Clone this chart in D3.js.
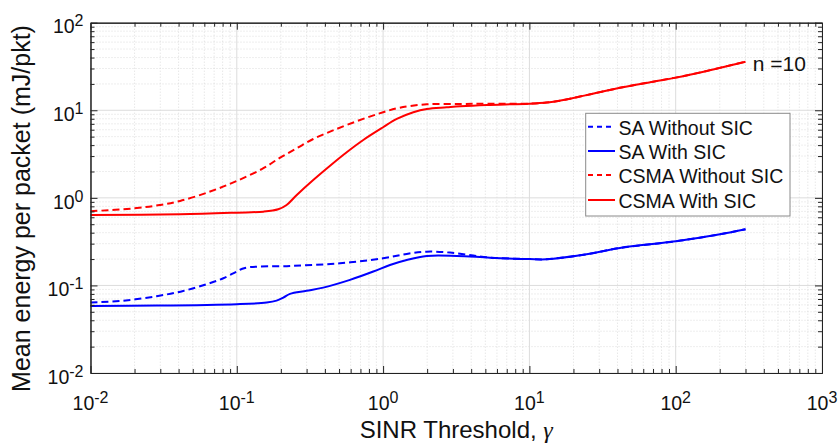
<!DOCTYPE html>
<html>
<head>
<meta charset="utf-8">
<script src="https://cdn.jsdelivr.net/npm/d3@7"></script>
<style>
  html, body { margin: 0; padding: 0; background: #fff; }
  svg { display: block; }
  text { font-family: "Liberation Sans", Arial, Helvetica, sans-serif; fill: #111; }
</style>
</head>
<body>
<svg id="chart" width="839" height="444"></svg>
<script>
// SINR threshold (x) and mean energy per packet (y, mJ/pkt), n = 10 nodes
const saNoSicX   = [0.01, 0.0168, 0.0283, 0.043, 0.0622, 0.0809, 0.0998, 0.1138, 0.231, 0.508, 1.0, 1.45, 1.99, 2.87, 4.14, 5.38, 10, 13.1, 24.6, 41.6, 100, 201, 300];
const saNoSicY   = [0.0637, 0.067, 0.0753, 0.0865, 0.1032, 0.1208, 0.144, 0.1585, 0.167, 0.179, 0.204, 0.229, 0.243, 0.237, 0.219, 0.208, 0.200, 0.199, 0.227, 0.268, 0.319, 0.384, 0.438];

const saSicX     = [0.01, 0.0283, 0.1, 0.16, 0.187, 0.208, 0.231, 0.3, 0.39, 0.594, 0.857, 1.114, 1.45, 1.99, 3.18, 5.38, 10, 13.1, 24.6, 41.6, 100, 201, 300];
const saSicY     = [0.0583, 0.0588, 0.061, 0.0637, 0.067, 0.0726, 0.080, 0.0867, 0.0944, 0.1156, 0.144, 0.1714, 0.1954, 0.2173, 0.2173, 0.2075, 0.200, 0.199, 0.227, 0.268, 0.319, 0.384, 0.438];

const csmaNoSicX = [0.01, 0.02, 0.03, 0.041, 0.0657, 0.1, 0.152, 0.198, 0.257, 0.333, 0.434, 0.564, 0.773, 1.0, 1.30, 1.99, 3.36, 5.1, 10, 14.6, 24.6, 41.6, 70, 100, 155, 300];
const csmaNoSicY = [0.703, 0.76, 0.83, 0.922, 1.18, 1.56, 2.18, 2.88, 3.68, 4.70, 5.70, 6.79, 8.24, 9.49, 10.7, 11.7, 11.8, 11.9, 11.9, 12.5, 14.9, 18.1, 21.2, 23.6, 27.6, 35.9];

const csmaSicX   = [0.01, 0.041, 0.1, 0.152, 0.192, 0.219, 0.257, 0.333, 0.434, 0.564, 0.732, 1.0, 1.24, 1.61, 1.99, 2.72, 3.36, 5.1, 10, 14.6, 24.6, 41.6, 70, 100, 155, 300];
const csmaSicY   = [0.638, 0.650, 0.678, 0.696, 0.741, 0.830, 1.08, 1.60, 2.33, 3.32, 4.58, 6.40, 7.96, 9.49, 10.35, 10.8, 11.1, 11.5, 11.9, 12.5, 14.9, 18.1, 21.2, 23.6, 27.6, 35.9];

const seriesNames  = ["SA Without SIC", "SA With SIC", "CSMA Without SIC", "CSMA With SIC"];
const seriesColors = ["#0000ff", "#0000ff", "#ff0000", "#ff0000"];
const seriesDashed = [true, false, true, false];

const xDecades = [-2, -1, 0, 1, 2, 3];
const yDecades = [-2, -1, 0, 1, 2];
const xLabel = "SINR Threshold, ";
const yLabel = "Mean energy per packet (mJ/pkt)";
const noteText = "n =10";

const series = [
  [saNoSicX, saNoSicY], [saSicX, saSicY], [csmaNoSicX, csmaNoSicY], [csmaSicX, csmaSicY]
].map(([xs, ys], i) => ({
  name: seriesNames[i], color: seriesColors[i], dashed: seriesDashed[i],
  points: xs.map((x, j) => ({ x, y: ys[j] }))
}));

const svg = d3.select("#chart");
const L = 90.5, R = 822, T = 22.7, B = 373;

const x = d3.scaleLog().domain([1e-2, 1e3]).range([L, R]);
const y = d3.scaleLog().domain([1e-2, 1e2]).range([B, T]);

// major (decade) and minor (2..9) positions
function logTicks(decs) {
  const major = decs.map(d => Math.pow(10, d));
  const minor = [];
  decs.slice(0, -1).forEach(d => {
    for (let k = 2; k <= 9; k++) minor.push(k * Math.pow(10, d));
  });
  return { major, minor };
}
const xt = logTicks(xDecades), yt = logTicks(yDecades);

// grid
const grid = svg.append("g");
grid.selectAll(".gxm").data(xt.minor).join("line")
  .attr("x1", d => x(d)).attr("x2", d => x(d)).attr("y1", T).attr("y2", B)
  .attr("stroke", "#d4d4d4").attr("stroke-width", 0.8).attr("stroke-dasharray", "1,2");
grid.selectAll(".gym").data(yt.minor).join("line")
  .attr("x1", L).attr("x2", R).attr("y1", d => y(d)).attr("y2", d => y(d))
  .attr("stroke", "#d4d4d4").attr("stroke-width", 0.8).attr("stroke-dasharray", "1,2");
grid.selectAll(".gx").data(xt.major).join("line")
  .attr("x1", d => x(d)).attr("x2", d => x(d)).attr("y1", T).attr("y2", B)
  .attr("stroke", "#dcdcdc").attr("stroke-width", 1);
grid.selectAll(".gy").data(yt.major).join("line")
  .attr("x1", L).attr("x2", R).attr("y1", d => y(d)).attr("y2", d => y(d))
  .attr("stroke", "#dcdcdc").attr("stroke-width", 1);

// curves
const line = d3.line().x(d => x(d.x)).y(d => y(d.y)).curve(d3.curveCatmullRom.alpha(0.5));
svg.append("g").selectAll("path").data(series).join("path")
  .attr("d", d => line(d.points))
  .attr("fill", "none")
  .attr("stroke", d => d.color)
  .attr("stroke-width", 2)
  .attr("stroke-dasharray", d => d.dashed ? "7,4" : null);

// axes: inward ticks on all four sides
const axisCol = "#222";
function styleAxis(g) {
  g.select(".domain").attr("stroke", axisCol).attr("stroke-width", 1);
  g.selectAll(".tick line").attr("stroke", axisCol).attr("stroke-width", 1);
}
function addAxis(axisFn, scale, vals, size, transform) {
  const g = svg.append("g").attr("transform", transform)
    .call(axisFn(scale).tickValues(vals).tickSize(size).tickSizeOuter(0).tickFormat(""));
  styleAxis(g);
  g.selectAll("text").remove();
  return g;
}
// minor ticks
addAxis(d3.axisBottom, x, xt.minor, -4, `translate(0,${B})`);
addAxis(d3.axisTop, x, xt.minor, -4, `translate(0,${T})`);
addAxis(d3.axisLeft, y, yt.minor, -4, `translate(${L},0)`);
addAxis(d3.axisRight, y, yt.minor, -4, `translate(${R},0)`);
// major ticks
addAxis(d3.axisBottom, x, xt.major, -7, `translate(0,${B})`);
addAxis(d3.axisTop, x, xt.major, -7, `translate(0,${T})`);
addAxis(d3.axisLeft, y, yt.major, -7, `translate(${L},0)`);
addAxis(d3.axisRight, y, yt.major, -7, `translate(${R},0)`);

// tick labels as 10 with superscript exponent
function powLabel(sel, exp) {
  sel.append("tspan").text("10");
  sel.append("tspan").attr("dy", -7).attr("font-size", "16px").text(exp);
}
svg.append("g").selectAll("text").data(xDecades).join("text")
  .attr("x", d => x(Math.pow(10, d))).attr("y", 410.3)
  .attr("text-anchor", "middle").attr("font-size", "19.5px")
  .each(function (d) { powLabel(d3.select(this), String(d)); });
svg.append("g").selectAll("text").data(yDecades).join("text")
  .attr("x", 83.5).attr("y", d => y(Math.pow(10, d)) + 10.7)
  .attr("text-anchor", "end").attr("font-size", "19.5px")
  .each(function (d) { powLabel(d3.select(this), String(d)); });

// axis titles
const xt1 = svg.append("text").attr("x", (L + R) / 2).attr("y", 438)
  .attr("text-anchor", "middle").attr("font-size", "24px");
xt1.append("tspan").text(xLabel);
xt1.append("tspan").attr("font-family", "'Liberation Serif', 'DejaVu Serif', serif")
  .attr("font-style", "italic").text("\u03B3");

svg.append("text")
  .attr("transform", "translate(29.8,208.5) rotate(-90)")
  .attr("text-anchor", "middle").attr("font-size", "25px")
  .text(yLabel);

// annotation
svg.append("text").attr("x", 752.7).attr("y", 70.7)
  .attr("font-size", "21px").text(noteText);

// legend
const lg = svg.append("g");
lg.append("rect").attr("x", 585.7).attr("y", 113.3).attr("width", 204.3).attr("height", 102.7)
  .attr("fill", "#fff").attr("stroke", "#8a8a8a").attr("stroke-width", 1);
const rowBase = [135, 159.3, 183.3, 208.3];
const rows = lg.selectAll("g").data(series).join("g");
rows.append("line")
  .attr("x1", 588).attr("x2", 615)
  .attr("y1", (d, i) => rowBase[i] - 8.3).attr("y2", (d, i) => rowBase[i] - 8.3)
  .attr("stroke", d => d.color).attr("stroke-width", 2)
  .attr("stroke-dasharray", d => d.dashed ? "5,4" : null);
rows.append("text")
  .attr("x", 618.5).attr("y", (d, i) => rowBase[i])
  .attr("font-size", "19.5px").text(d => d.name);
</script>
</body>
</html>
